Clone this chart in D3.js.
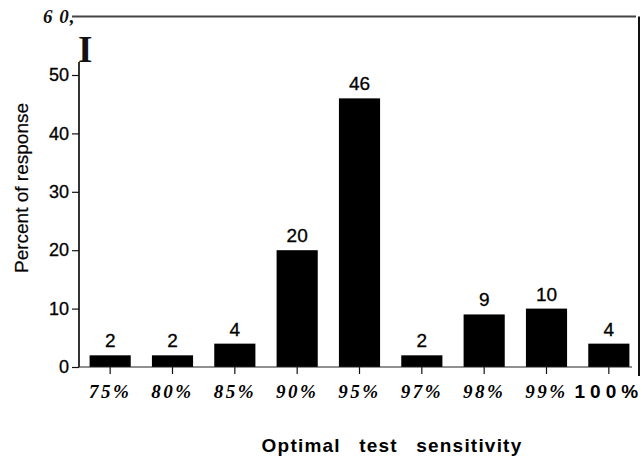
<!DOCTYPE html>
<html><head><meta charset="utf-8">
<script src="https://cdn.jsdelivr.net/npm/d3@7"></script>
<style>body{margin:0;background:#fff}svg{display:block}</style>
</head><body>
<svg id="c" width="642" height="459"></svg>
<script>
const categories = ["75%","80%","85%","90%","95%","97%","98%","99%","100%"];
const values = [2,2,4,20,46,2,9,10,4];
const yTicks = [0,10,20,30,40,50];
const yTopLabel = "6 0,";
const xTitle = "Optimal test sensitivity";
const yTitle = "Percent of response";

const svg = d3.select("#c");
const x = d3.scaleBand().domain(categories).range([79,640]).paddingInner(0.34).paddingOuter(0.17);
const y = d3.scaleLinear().domain([0,60]).range([367,16.6]);

// top frame line (60 level) and right border
svg.append("line").attr("x1",72).attr("x2",636).attr("y1",y(60)).attr("y2",y(60))
  .attr("stroke","#444").attr("stroke-width",2);
svg.append("line").attr("x1",639).attr("x2",639).attr("y1",y(60)).attr("y2",376)
  .attr("stroke","#111").attr("stroke-width",2);
svg.append("text").attr("x",43).attr("y",y(60)+6).text(yTopLabel)
  .attr("font-family","Liberation Serif").attr("font-style","italic").attr("font-weight","bold")
  .attr("font-size",19).attr("letter-spacing","1px").attr("fill","#111");

// y axis
const yAxis = d3.axisLeft(y).tickValues(yTicks).tickSize(7).tickPadding(3).tickSizeOuter(0);
const gy = svg.append("g").attr("transform","translate(79,0)").call(yAxis);
gy.select(".domain").remove();
gy.selectAll("line").attr("stroke","#111").attr("stroke-width",1.2);
gy.selectAll("text").attr("font-family","Liberation Sans").attr("font-size",18)
  .attr("stroke","#000").attr("stroke-width",0.3).attr("fill","#000");
svg.append("line").attr("x1",79).attr("x2",79).attr("y1",62).attr("y2",y(0))
  .attr("stroke","#000").attr("stroke-width",1.6);
svg.append("text").attr("x",78).attr("y",62).text("I")
  .attr("font-family","Liberation Serif").attr("font-weight","bold").attr("font-size",37).attr("fill","#111");

// bars
svg.append("g").selectAll("rect").data(values).join("rect")
  .attr("x",(d,i)=>x(categories[i])).attr("width",x.bandwidth())
  .attr("y",d=>y(d)).attr("height",d=>y(0)-y(d)).attr("fill","#000");
svg.append("g").selectAll("text").data(values).join("text")
  .attr("x",(d,i)=>x(categories[i])+x.bandwidth()/2).attr("y",d=>y(d)-8)
  .attr("text-anchor","middle").text(d=>d)
  .attr("font-family","Liberation Sans").attr("font-size",19)
  .attr("stroke","#000").attr("stroke-width",0.3).attr("fill","#000");

// x axis
const xAxis = d3.axisBottom(x).tickSize(7).tickPadding(11).tickSizeOuter(0);
const gx = svg.append("g").attr("transform",`translate(0,${y(0)})`).call(xAxis);
gx.select(".domain").remove();
gx.selectAll("line").attr("stroke","#111").attr("stroke-width",1.2);
gx.selectAll("text")
  .attr("font-family",d=>d==="100%"?"Liberation Sans":"Liberation Serif")
  .attr("font-style",d=>d==="100%"?"normal":"italic")
  .attr("font-weight","bold").attr("font-size",19)
  .attr("letter-spacing",d=>d==="100%"?"5px":"2.5px").attr("fill","#000");
svg.append("line").attr("x1",79).attr("x2",632).attr("y1",y(0)).attr("y2",y(0))
  .attr("stroke","#222").attr("stroke-width",1.2);

// titles
svg.append("text").attr("x",392).attr("y",452).attr("text-anchor","middle").text(xTitle)
  .attr("font-family","Liberation Sans").attr("font-weight","bold").attr("font-size",19)
  .attr("letter-spacing","1.2px").attr("word-spacing","12px").attr("fill","#000");
svg.append("text").attr("transform","translate(28,188) rotate(-90)").attr("text-anchor","middle").text(yTitle)
  .attr("font-family","Liberation Sans").attr("font-size",19)
  .attr("stroke","#000").attr("stroke-width",0.2).attr("fill","#000");
</script>
</body></html>
